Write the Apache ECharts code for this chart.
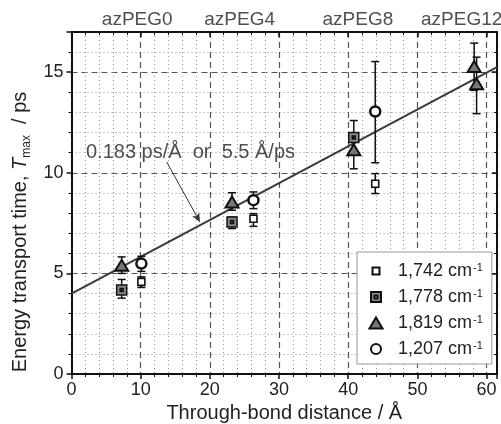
<!DOCTYPE html>
<html><head><meta charset="utf-8">
<script src="https://cdn.jsdelivr.net/npm/echarts@6/dist/echarts.min.js"></script>
<style>html,body{margin:0;padding:0;background:#fff}#c{width:501px;height:424px}</style>
</head><body><div id="c"></div>
<script>
const topLabels = ['azPEG0', 'azPEG4', 'azPEG8', 'azPEG12'];
const topLabelX = [9.5, 24.3, 41.4, 56.4];

const seriesNames = ['1,742', '1,778', '1,819', '1,207'];

const x1742 = [10.1, 26.3, 43.9];
const y1742 = [4.58, 7.72, 9.46];
const lo1742 = [4.3, 7.34, 8.97];
const hi1742 = [4.83, 7.97, 9.96];

const x1778 = [7.25, 23.2, 40.8];
const y1778 = [4.17, 7.56, 11.75];
const lo1778 = [3.77, 7.23, 10.9];
const hi1778 = [4.7, 7.8, 12.6];

const x1819 = [7.25, 23.2, 40.8, 58.2, 58.55];
const y1819 = [5.4, 8.55, 11.15, 15.29, 14.43];
const lo1819 = [5.0, 8.14, 10.2, 14.1, 12.94];
const hi1819 = [5.82, 9.01, 11.9, 16.45, 15.75];

const x1207 = [10.1, 26.3, 43.9];
const y1207 = [5.49, 8.64, 13.05];
const lo1207 = [5.1, 8.22, 10.5];
const hi1207 = [5.85, 9.05, 15.53];

const fitX = [0, 61.5];
const fitY = [4.0, 15.25];
const arrowFrom = [13.76, 10.54];
const arrowTo = [18.57, 7.55];
const annotationText = '0.183 ps/Å  or  5.5 Å/ps';
const annotationAt = [17.2, 11.0];

const FONT = '"Liberation Sans", Arial, Helvetica, sans-serif';
const FRAME = 'M0 0L0 0M16 16L16 16';
const P1742 = 'path://' + FRAME + 'M4.5 4.5L11.5 4.5L11.5 11.5L4.5 11.5Z';
const P1778 = 'path://' + FRAME + 'M3 3L13 3L13 13L3 13ZM6.5 6.5L6.5 9.5L9.5 9.5L9.5 6.5Z';
const P1819 = 'path://' + FRAME + 'M8 2.5L14.5 13.5L1.5 13.5Z';
const P1207 = 'path://' + FRAME + 'M3 8A5 5 0 1 1 13 8A5 5 0 1 1 3 8Z';

function pts(xs, ys) { return xs.map((x, i) => [x, ys[i]]); }

function errSeries(xs, lo, hi) {
  return {
    type: 'custom', silent: true, z: 3, clip: false,
    data: xs.map((x, i) => [x, lo[i], hi[i]]),
    encode: { x: 0, y: [1, 2] },
    renderItem(params, api) {
      const p1 = api.coord([api.value(0), api.value(1)]);
      const p2 = api.coord([api.value(0), api.value(2)]);
      const w = 4;
      const style = { stroke: '#111', lineWidth: 1.5, fill: null };
      return { type: 'group', children: [
        { type: 'line', shape: { x1: p1[0], y1: p1[1], x2: p2[0], y2: p2[1] }, style },
        { type: 'line', shape: { x1: p1[0] - w, y1: p1[1], x2: p1[0] + w, y2: p1[1] }, style },
        { type: 'line', shape: { x1: p2[0] - w, y1: p2[1], x2: p2[0] + w, y2: p2[1] }, style }
      ]};
    }
  };
}

function scat(name, sym, data, fill, bw) {
  return { type: 'scatter', name, symbol: sym, symbolSize: 16, data, z: 5, clip: false,
    itemStyle: { color: fill, borderColor: '#111', borderWidth: bw, opacity: 1 } };
}

const chart = echarts.init(document.getElementById('c'), null, { renderer: 'canvas' });

const axisCommon = {
  type: 'value',
  axisLine: { show: true, onZero: false, lineStyle: { color: '#111', width: 2 } },
  axisTick: { show: true, length: 5, lineStyle: { color: '#111', width: 1.5 } },
  minorTick: { show: true, splitNumber: 5, length: 3, lineStyle: { color: '#111', width: 1 } }
};

chart.setOption({
  animation: false,
  backgroundColor: '#fff',
  textStyle: { fontFamily: FONT },
  grid: { left: 71.5, right: 4, top: 32, bottom: 50, outerBoundsMode: 'none' },
  xAxis: [
    Object.assign({}, axisCommon, {
      position: 'bottom', min: 0, max: 61.5, interval: 10,
      axisLabel: { fontSize: 18, color: '#222', margin: 7, showMaxLabel: false, fontFamily: FONT },
      splitLine: { show: true, lineStyle: { type: [6, 4], color: '#555', width: 1.2 } },
      minorSplitLine: { show: true, lineStyle: { type: [1, 3], color: '#999', width: 1 } },
      name: 'Through-bond distance / Å', nameLocation: 'middle', nameGap: 26,
      nameTextStyle: { fontSize: 20, color: '#222', fontFamily: FONT }
    }),
    Object.assign({}, axisCommon, {
      position: 'top', min: 0, max: 61.5, interval: 10,
      axisTick: { show: true, inside: true, length: 5, lineStyle: { color: '#111', width: 1.5 } },
      minorTick: { show: true, splitNumber: 5, length: 3, lineStyle: { color: '#111', width: 1 } },
      axisLabel: { show: false }, splitLine: { show: false }
    })
  ],
  yAxis: [
    Object.assign({}, axisCommon, {
      position: 'left', min: 0, max: 17, interval: 5,
      axisLabel: { fontSize: 18, color: '#222', margin: 8, showMaxLabel: false, fontFamily: FONT },
      splitLine: { show: true, lineStyle: { type: [6, 4], color: '#555', width: 1.2 } },
      minorSplitLine: { show: true, lineStyle: { type: [1, 3], color: '#999', width: 1 } },
      name: '{a|Energy transport time, }{i|T}{s|max}{a|  / ps}',
      nameLocation: 'middle', nameGap: 37,
      nameTextStyle: { color: '#222', fontFamily: FONT, padding: [0, 58, 0, 0],
        rich: {
          a: { fontSize: 20, color: '#222', fontFamily: FONT, lineHeight: 24 },
          i: { fontSize: 20, color: '#222', fontFamily: FONT, fontStyle: 'italic', lineHeight: 24 },
          s: { fontSize: 12, color: '#222', fontFamily: FONT, lineHeight: 13, verticalAlign: 'bottom' }
        } }
    }),
    Object.assign({}, axisCommon, {
      position: 'right', min: 0, max: 17, interval: 5,
      axisTick: { show: true, inside: true, length: 5, lineStyle: { color: '#111', width: 1.5 } },
      minorTick: { show: true, splitNumber: 5, length: 3, lineStyle: { color: '#111', width: 1 } },
      axisLabel: { show: false }, splitLine: { show: false }
    })
  ],
  legend: {
    orient: 'vertical', left: 357, top: 252, padding: [10, 9, 6, 10],
    itemWidth: 20, itemHeight: 16, itemGap: 8,
    backgroundColor: '#fff', borderColor: '#999', borderWidth: 1,
    data: [
      { name: seriesNames[0], icon: P1742 },
      { name: seriesNames[1], icon: P1778 },
      { name: seriesNames[2], icon: P1819 },
      { name: seriesNames[3], icon: P1207 }
    ],
    formatter: n => '{a|' + n + ' cm}{s|-1}',
    textStyle: { fontFamily: FONT, color: '#222', fontSize: 18,
      rich: {
        a: { fontSize: 18, color: '#222', fontFamily: FONT, lineHeight: 18, padding: [0, 0, 0, 7] },
        s: { fontSize: 11, color: '#222', fontFamily: FONT, lineHeight: 11, verticalAlign: 'top', padding: [0, 0, 0, 1] }
      } }
  },
  series: [
    {
      type: 'line', name: 'fit', data: pts(fitX, fitY), symbol: 'none', z: 2, silent: true,
      lineStyle: { color: '#3a3a3a', width: 2 },
      markLine: {
        silent: true, symbol: ['none', 'arrow'], symbolSize: [6, 9],
        lineStyle: { color: '#333', width: 1, type: 'solid' }, label: { show: false },
        data: [[{ coord: arrowFrom }, { coord: arrowTo }]]
      }
    },
    errSeries(x1742, lo1742, hi1742),
    errSeries(x1778, lo1778, hi1778),
    errSeries(x1819, lo1819, hi1819),
    errSeries(x1207, lo1207, hi1207),
    scat(seriesNames[0], P1742, pts(x1742, y1742), '#fff', 1.6),
    scat(seriesNames[1], P1778, pts(x1778, y1778), '#888', 1.5),
    scat(seriesNames[2], P1819, pts(x1819, y1819), '#777', 2),
    scat(seriesNames[3], P1207, pts(x1207, y1207), '#fff', 2.5),
    {
      type: 'scatter', name: 'top', symbolSize: 0, silent: true, clip: false, z: 6,
      data: topLabelX.map((x, i) => ({ value: [x, 17], name: topLabels[i] })),
      label: { show: true, position: 'top', distance: 3, formatter: '{b}', fontSize: 19, color: '#222', fontFamily: FONT }
    },
    {
      type: 'scatter', name: 'note', symbolSize: 0, silent: true, clip: false, z: 6,
      data: [{ value: annotationAt, name: annotationText }],
      label: { show: true, position: 'inside', formatter: '{b}', fontSize: 20, color: '#222', fontFamily: FONT }
    }
  ]
});
</script></body></html>
